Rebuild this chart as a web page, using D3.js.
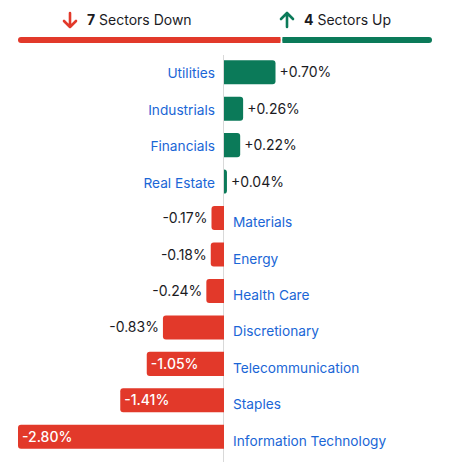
<!DOCTYPE html>
<html><head><meta charset="utf-8">
<script src="https://cdn.jsdelivr.net/npm/d3@7"></script>
<style>
body{margin:0;background:#fff;}
text{font-family:Inter, "Noto Sans", sans-serif;}
</style></head>
<body><svg id="c" width="449" height="462"></svg>
<script>
const categories = ["Utilities","Industrials","Financials","Real Estate","Materials","Energy","Health Care","Discretionary","Telecommunication","Staples","Information Technology"];
const values = [0.70,0.26,0.22,0.04,-0.17,-0.18,-0.24,-0.83,-1.05,-1.41,-2.80];
const downCount = 7, upCount = 4;

const RED = "#e2392a", GREEN = "#0b7a59", BLUE = "#1a66d6", INK = "#1b1b1f";
const svg = d3.select("#c");

// header
const hx = d3.scaleLinear().domain([0, downCount + upCount]).range([18, 432]);
const gap = 2;
svg.append("rect").attr("x", hx(0)).attr("y", 37).attr("width", hx(downCount) - hx(0) - gap/2).attr("height", 6).attr("rx", 3).attr("fill", RED);
svg.append("rect").attr("x", hx(downCount) + gap/2).attr("y", 37).attr("width", hx(downCount+upCount) - hx(downCount) - gap/2).attr("height", 6).attr("rx", 3).attr("fill", GREEN);
svg.append("rect").attr("x", hx(downCount) - gap/2 - 4).attr("y", 37).attr("width", 4).attr("height", 6).attr("fill", RED);
svg.append("rect").attr("x", hx(downCount) + gap/2).attr("y", 37).attr("width", 4).attr("height", 6).attr("fill", GREEN);

function arrow(g, cx, cy, up, color){
  const s = up ? -1 : 1;
  g.append("path").attr("d", `M${cx},${cy - 7*s} L${cx},${cy + 7*s} M${cx-6},${cy + 1*s} L${cx},${cy + 7*s} L${cx+6},${cy + 1*s}`)
   .attr("stroke", color).attr("stroke-width", 2.6).attr("fill", "none").attr("stroke-linecap","round").attr("stroke-linejoin","round");
}
arrow(svg, 70, 20, false, RED);
const t1 = svg.append("text").attr("x", 87).attr("y", 25).attr("font-size", 14).attr("fill", INK);
t1.append("tspan").attr("font-weight", 700).text(downCount);
t1.append("tspan").text(" Sectors Down");
arrow(svg, 287, 20, true, GREEN);
const t2 = svg.append("text").attr("x", 304).attr("y", 25).attr("font-size", 14).attr("fill", INK);
t2.append("tspan").attr("font-weight", 700).text(upCount);
t2.append("tspan").text(" Sectors Up");

// chart
const x = d3.scaleLinear().domain([-2.80, 0.70]).range([18, 275.5]);
const y = d3.scaleBand().domain(categories).range([54, 455]).paddingInner(0.34).paddingOuter(0.17);
const x0 = x(0);

svg.append("line").attr("x1", x0 - 0.5).attr("x2", x0 - 0.5).attr("y1", 55).attr("y2", 462).attr("stroke", "#d9d9d9").attr("stroke-width", 1);

const data = categories.map((c,i)=>({c, v: values[i]}));
const bh = y.bandwidth();
const r = 3;
function barPath(d){
  const yt = y(d.c), yb = yt + bh;
  const xe = x(d.v);
  const rr = Math.min(r, Math.abs(xe - x0));
  if (d.v >= 0){
    return `M${x0},${yt} L${xe-rr},${yt} Q${xe},${yt} ${xe},${yt+rr} L${xe},${yb-rr} Q${xe},${yb} ${xe-rr},${yb} L${x0},${yb} Z`;
  } else {
    return `M${x0},${yt} L${xe+rr},${yt} Q${xe},${yt} ${xe},${yt+rr} L${xe},${yb-rr} Q${xe},${yb} ${xe+rr},${yb} L${x0},${yb} Z`;
  }
}
const g = svg.append("g");
g.selectAll("path.bar").data(data).join("path").attr("class","bar")
  .attr("d", barPath).attr("fill", d => d.v >= 0 ? GREEN : RED);

const fmt = v => (v > 0 ? "+" : "") + v.toFixed(2) + "%";
g.selectAll("text.val").data(data).join("text").attr("class","val")
  .attr("font-size", 14)
  .attr("y", d => y(d.c) + bh/2 + 5)
  .each(function(d){
    const t = d3.select(this);
    const w = Math.abs(x(d.v) - x0);
    if (d.v >= 0){
      t.attr("x", x(d.v) + 4).attr("text-anchor","start").attr("fill", INK);
    } else if (w > 70){
      t.attr("x", x(d.v) + 4).attr("text-anchor","start").attr("fill", "#fff").attr("font-weight", 500);
    } else {
      t.attr("x", x(d.v) - 4).attr("text-anchor","end").attr("fill", INK);
    }
  })
  .text(d => fmt(d.v));

g.selectAll("text.cat").data(data).join("text").attr("class","cat")
  .attr("font-size", 13.7).attr("fill", BLUE)
  .attr("x", d => d.v >= 0 ? x0 - 9 : x0 + 9)
  .attr("text-anchor", d => d.v >= 0 ? "end" : "start")
  .attr("y", d => y(d.c) + bh/2 + 5 + (d.v >= 0 ? 1 : 4))
  .text(d => d.c);
</script></body></html>
